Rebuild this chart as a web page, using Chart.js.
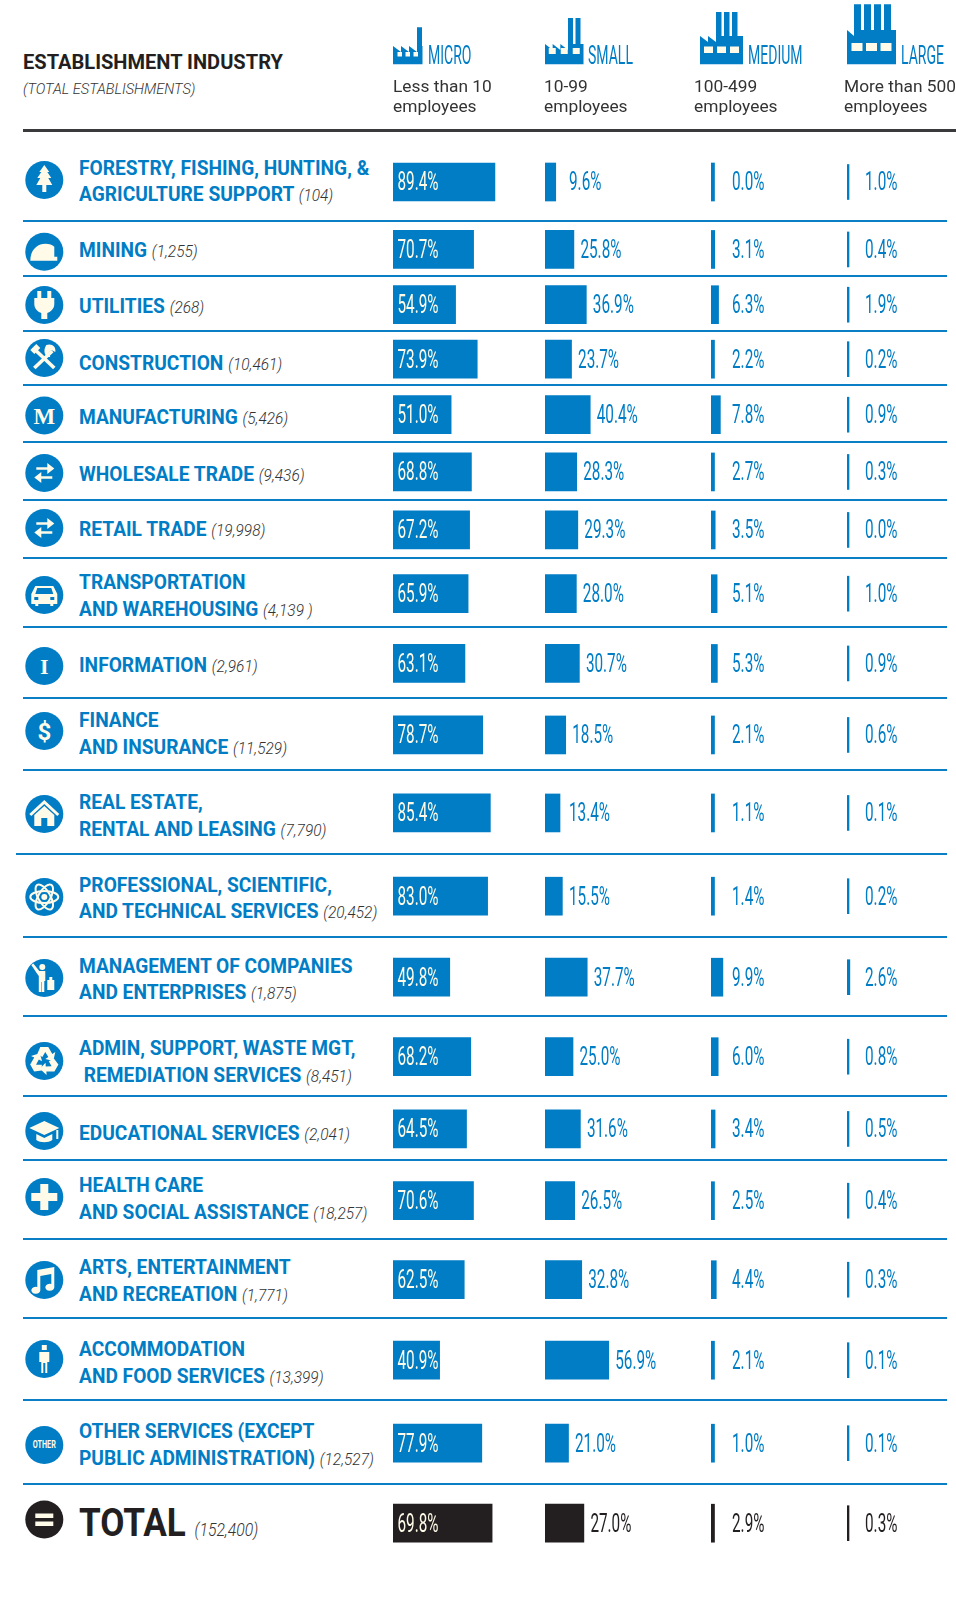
<!DOCTYPE html>
<html>
<head>
<meta charset="utf-8">
<title>Establishment industry by size</title>
<script src="https://cdn.jsdelivr.net/npm/chart.js@4"></script>
<style>
  html, body { margin: 0; background: #fff; }
  #page { position: relative; width: 956px; height: 1609px; overflow: hidden; font-family: Roboto, sans-serif; color: #231f20; }
  #page > * { position: absolute; }
  #art { left: 0; top: 0; }
  .squeeze { transform-origin: left center; white-space: pre; }
  .title { left: 23px; top: 48px; font-size: 21px; line-height: 28px; font-weight: 700; transform: scaleX(.955); }
  .sub { left: 23px; top: 79px; font-size: 15px; line-height: 20px; font-weight: 300; font-style: italic; transform: scaleX(.97); color: #333; }
  .size { top: 41px; font-size: 25.5px; line-height: 28px; font-weight: 400; color: #007dc5; transform: scaleX(.55); }
  .range { top: 76px; font-size: 17px; line-height: 20px; font-weight: 400; transform: scaleX(1.02); color: #333; }
  .label { left: 79px; font-size: 20.5px; line-height: 26.7px; font-weight: 700; color: #007dc5; transform: translateY(-50%) scaleX(.935); }
  .label i { font-size: 16.5px; font-weight: 300; color: #333; }
  .label.total { font-size: 39px; line-height: 40px; color: #231f20; transform: translateY(-50%) scaleX(.9); }
  .label.total i { font-size: 17.5px; }
  .rule { height: 2px; background: #0a7fc6; right: 9px; }
  .heavy { left: 23px; right: 0; top: 129px; height: 3px; background: #3a3a3c; }
  canvas { top: 0; }
</style>
</head>
<body>
<div id="page">
  <svg id="art" width="956" height="1609"></svg>
  <div class="squeeze title">ESTABLISHMENT INDUSTRY</div>
  <div class="squeeze sub">(TOTAL ESTABLISHMENTS)</div>
  <canvas id="colMicro"></canvas>
  <canvas id="colSmall"></canvas>
  <canvas id="colMedium"></canvas>
  <canvas id="colLarge"></canvas>
</div>
<script>
// chart data
const categories = [
  'FORESTRY, FISHING, HUNTING, &|AGRICULTURE SUPPORT',
  'MINING',
  'UTILITIES',
  'CONSTRUCTION',
  'MANUFACTURING',
  'WHOLESALE TRADE',
  'RETAIL TRADE',
  'TRANSPORTATION|AND WAREHOUSING',
  'INFORMATION',
  'FINANCE|AND INSURANCE',
  'REAL ESTATE,|RENTAL AND LEASING',
  'PROFESSIONAL, SCIENTIFIC,|AND TECHNICAL SERVICES',
  'MANAGEMENT OF COMPANIES|AND ENTERPRISES',
  'ADMIN, SUPPORT, WASTE MGT,| REMEDIATION SERVICES',
  'EDUCATIONAL SERVICES',
  'HEALTH CARE|AND SOCIAL ASSISTANCE',
  'ARTS, ENTERTAINMENT|AND RECREATION',
  'ACCOMMODATION|AND FOOD SERVICES',
  'OTHER SERVICES (EXCEPT|PUBLIC ADMINISTRATION)',
  'TOTAL'
];
const counts = ['(104)', '(1,255)', '(268)', '(10,461)', '(5,426)', '(9,436)', '(19,998)', '(4,139 )', '(2,961)', '(11,529)',
  '(7,790)', '(20,452)', '(1,875)', '(8,451)', '(2,041)', '(18,257)', '(1,771)', '(13,399)', '(12,527)', '(152,400)'];
const micro = [89.4, 70.7, 54.9, 73.9, 51.0, 68.8, 67.2, 65.9, 63.1, 78.7, 85.4, 83.0, 49.8, 68.2, 64.5, 70.6, 62.5, 40.9, 77.9, 69.8];
const small = [9.6, 25.8, 36.9, 23.7, 40.4, 28.3, 29.3, 28.0, 30.7, 18.5, 13.4, 15.5, 37.7, 25.0, 31.6, 26.5, 32.8, 56.9, 21.0, 27.0];
const medium = [0.0, 3.1, 6.3, 2.2, 7.8, 2.7, 3.5, 5.1, 5.3, 2.1, 1.1, 1.4, 9.9, 6.0, 3.4, 2.5, 4.4, 2.1, 1.0, 2.9];
const large = [1.0, 0.4, 1.9, 0.2, 0.9, 0.3, 0.0, 1.0, 0.9, 0.6, 0.1, 0.2, 2.6, 0.8, 0.5, 0.4, 0.3, 0.1, 0.1, 0.3];
const sizeNames = ['MICRO', 'SMALL', 'MEDIUM', 'LARGE'];
const sizeRanges = ['Less than 10|employees', '10-99|employees', '100-499|employees', 'More than 500|employees'];

// layout
const BLUE = '#007dc5';
const BLACK = '#231f20';
const CREAM = '#fffbe8';
const tableTop = 143.5;
const rowHeights = [77, 55.5, 55, 54, 57, 57.5, 58.5, 69, 70.5, 72.5, 83.5, 83, 79, 80, 64.5, 79, 79, 82, 84, 76];
const labelMiddles = [182.5, 251, 306.7, 364, 417.5, 475, 530, 597, 666, 735, 817, 899.5, 980.6, 1063, 1133.5, 1200, 1282, 1364, 1446, 1526];
const iconMiddles = [180, 251.7, 305, 358, 415.5, 473, 528, 595, 666, 731, 814, 897, 978, 1061, 1131, 1197, 1280, 1359, 1445, 1519.5];
const totalRow = categories.length - 1;

// category axis whose bands follow the uneven row heights of the table
class RowScale extends Chart.CategoryScale {
  static id = 'rows';
  static defaults = Chart.CategoryScale.defaults;
  getPixelForValue(value) {
    const i = typeof value === 'number' ? value : this.parse(value);
    let top = tableTop;
    for (let r = 0; r < i; r++) top += rowHeights[r];
    return top + rowHeights[i] / 2 + (i > 0 ? 1.2 : 0);
  }
}
Chart.register(RowScale);

// value labels drawn next to the bars, squeezed like the condensed type of the original
const valueLabels = {
  id: 'valueLabels',
  afterDatasetsDraw(chart, args, opts) {
    const ctx = chart.ctx;
    chart.data.datasets.forEach((ds, d) => {
      chart.getDatasetMeta(d).data.forEach((bar, i) => {
        if (ds.data[i] === null) return;
        let x = opts.fixedX;
        if (opts.mode === 'inside') x = 4.5;
        if (opts.mode === 'after') x = Math.max(bar.x + 6.5, 24);
        ctx.save();
        ctx.font = '400 25.5px Roboto, sans-serif';
        ctx.fillStyle = opts.mode === 'inside' ? CREAM : (i === totalRow ? BLACK : BLUE);
        ctx.textBaseline = 'middle';
        ctx.translate(x, bar.y + 2);
        ctx.scale(.6, 1);
        ctx.fillText(ds.data[i].toFixed(1) + '%', 0, 0);
        ctx.restore();
      });
    });
  }
};

function columnChart(id, values, o) {
  const canvas = document.getElementById(id);
  canvas.style.left = o.left + 'px';
  canvas.width = o.width;
  canvas.height = 1609;
  const rowValues = values.map((v, i) => i === totalRow ? null : v);
  const totalValues = values.map((v, i) => i === totalRow ? v : null);
  return new Chart(canvas, {
    type: 'bar',
    data: {
      labels: categories,
      datasets: [
        { data: rowValues, backgroundColor: BLUE, xAxisID: 'x', yAxisID: 'y' },
        { data: totalValues, backgroundColor: BLACK, xAxisID: 'xTotal', yAxisID: 'y' }
      ]
    },
    options: {
      indexAxis: 'y',
      responsive: false,
      animation: false,
      grouped: false,
      barThickness: o.thickness,
      minBarLength: o.minBar,
      layout: { padding: 0 },
      scales: {
        x: { type: 'linear', display: false, min: 0, max: o.width / o.pxPerPct },
        xTotal: { type: 'linear', display: false, min: 0, max: o.width / o.totalPxPerPct },
        y: { type: 'rows', display: false }
      },
      plugins: {
        legend: { display: false },
        tooltip: { enabled: false },
        valueLabels: { mode: o.mode, fixedX: o.fixedX }
      }
    },
    plugins: [valueLabels]
  });
}

columnChart('colMicro', micro, { left: 393, width: 152, pxPerPct: 1.14, totalPxPerPct: 1.42, thickness: 38, minBar: 0, mode: 'inside' });
columnChart('colSmall', small, { left: 545, width: 155, pxPerPct: 1.12, totalPxPerPct: 1.44, thickness: 38, minBar: 0, mode: 'after' });
columnChart('colMedium', medium, { left: 710.5, width: 136, pxPerPct: 1.2, totalPxPerPct: 1.2, thickness: 38, minBar: 3.5, mode: 'fixed', fixedX: 21 });
columnChart('colLarge', large, { left: 847, width: 109, pxPerPct: 1.1, totalPxPerPct: 1.1, thickness: 35, minBar: 2, mode: 'fixed', fixedX: 18 });

// table text and rules
const page = document.getElementById('page');
function addDiv(cls, html, style) {
  const el = document.createElement('div');
  el.className = cls;
  el.innerHTML = html;
  Object.assign(el.style, style);
  page.appendChild(el);
  return el;
}

let ruleY = tableTop;
categories.forEach((name, i) => {
  const lines = name.replace('&', '&amp;').split('|');
  lines[lines.length - 1] += ' <i>' + counts[i] + '</i>';
  addDiv('squeeze label' + (i === totalRow ? ' total' : ''), lines.join('<br>'), { top: labelMiddles[i] + 'px' });
  ruleY += rowHeights[i];
  if (i < totalRow) {
    addDiv('rule', '', { top: (ruleY - 1) + 'px', left: i === 10 ? '16px' : '23px' });
  }
});
addDiv('heavy', '', {});

const nameLeft = [428, 588, 747.5, 900.5];
const rangeLeft = [392.5, 544, 694, 844];
sizeNames.forEach((n, i) => {
  addDiv('squeeze size', n, { left: nameLeft[i] + 'px' });
  addDiv('squeeze range', sizeRanges[i].replace('|', '<br>'), { left: rangeLeft[i] + 'px' });
});

// factory pictograms and row icons
function factory(x, right, chimneyTop, bodyTop, chimneyLeft, chimneyW, gap, n, teeth, winTop, winH, winW, winGap) {
  let d = 'M' + x + ' 64.3V' + bodyTop;
  const toothW = (chimneyLeft - x) / teeth;
  for (let t = 1; t <= teeth; t++) d += 'L' + (x + toothW * t) + ' ' + (bodyTop + 6) + 'V' + bodyTop;
  for (let c = 0; c < n; c++) {
    const cx = chimneyLeft + c * (chimneyW + gap);
    d += 'H' + cx + 'V' + chimneyTop + 'H' + (cx + chimneyW) + 'V' + bodyTop;
  }
  d += 'H' + right + 'V64.3Z';
  let s = '<path fill="' + BLUE + '" d="' + d + '"/>';
  const winLeft = x + (right - x - (3 * winW + 2 * winGap)) / 2;
  for (let w = 0; w < 3; w++) {
    s += '<rect fill="' + CREAM + '" x="' + (winLeft + w * (winW + winGap)) + '" y="' + winTop + '" width="' + winW + '" height="' + winH + '"/>';
  }
  return s;
}

const glyph = (d) => '<path fill="' + CREAM + '" d="' + d + '"/>';
const line = (d, w) => '<path fill="none" stroke="' + CREAM + '" stroke-width="' + w + '" d="' + d + '"/>';
const word = (t, size, family, y) => '<text x="0" y="' + y + '" text-anchor="middle" fill="' + CREAM + '" font-weight="700" font-size="' + size + '" font-family="' + family + '">' + t + '</text>';
const arrows = line('M-8 -4.5H8M-8 4.5H8', 2.6) + glyph('M3 -10L10 -4.5L3 1ZM-3 -1L-10 4.5L-3 10Z');
const recycleArm = glyph('M-4 -14H4L8 -7L11 -9L9 0L1 -2L4 -4L1 -9L-2 -4L-7 -7Z');
const icons = [
  glyph('M0 -15L5 -8H3L7 -2H4L8 5H2V12H-2V5H-8L-4 -2H-7L-3 -8H-5Z'),
  glyph('M-14 9C-14 -2 -7 -8 1 -8C5 -8 8 -7 10 -5V5H13V9Z'),
  glyph('M-7 -14H-3V-7H3V-14H7V-7H10V-1C10 4 6 7 3 8V14H-3V8C-6 7 -10 4 -10 -1V-7H-7Z'),
  line('M-10 10L8 -7M-9 -8L10 10', 3.6) + glyph('M2 -13C7 -15 12 -12 11 -6L7 -8L4 -5L6 -1C1 0 -2 -7 2 -13ZM-14 -8L-8 -14L-4 -10L-10 -4Z'),
  word('M', 23, 'Liberation Serif', 8),
  arrows,
  arrows,
  glyph('M-9 -9H9L13 -1V9H9V11H6V9H-6V11H-9V9H-13V-1Z') + '<path fill="' + BLUE + '" d="M-7 -7H7L9 -1H-9ZM-10 2H-6V5H-10ZM6 2H10V5H6Z"/>',
  word('I', 22, 'Liberation Serif', 8),
  word('$', 24, 'Roboto', 8.5),
  glyph('M0 -14L15 0L13 2L0 -10L-13 2L-15 0ZM-10 1L0 -8L10 1V12H3V4H-3V12H-10Z'),
  '<g fill="none" stroke="' + CREAM + '" stroke-width="2"><ellipse rx="14" ry="6"/><ellipse rx="14" ry="6" transform="rotate(60)"/><ellipse rx="14" ry="6" transform="rotate(-60)"/></g><circle r="3" fill="' + CREAM + '"/>',
  '<circle cx="-2" cy="-11" r="3" fill="' + CREAM + '"/>' + glyph('M-13 -13L-11 -14.5L-5 -7H1V3H0V14H-2.5V4H-3V14H-5.5V-2L-7 -4ZM3 2H10V12H3ZM5 -1H8V2H5Z'),
  recycleArm + '<g transform="rotate(120)">' + recycleArm + '</g><g transform="rotate(240)">' + recycleArm + '</g>',
  glyph('M-15 -3L0 -10L15 -3L0 4ZM-8 3L0 7L8 3V9C4 12 -4 12 -8 9ZM12 -1H14V8H12Z'),
  glyph('M-4 -13H4V-4H13V4H4V13H-4V4H-13V-4H-4Z'),
  glyph('M-7 -10L10 -13V7A4.5 3.5 0 1 1 7 4V-6L-4 -4V10A4.5 3.5 0 1 1 -7 7Z'),
  glyph('M-2.5 -14h5v5h-5ZM-5 -7H5V3H3V14H1V4H-1V14H-3V3H-5Z'),
  '<text x="0" y="3" transform="scale(.72 1)" text-anchor="middle" fill="' + CREAM + '" font-weight="700" font-size="10" font-family="Roboto">OTHER</text>',
  glyph('M-9 -6H9V-1.5H-9ZM-9 2H9V6.5H-9Z')
];

let art = factory(393, 422.5, 27.3, 46, 417, 5, 0, 1, 3, 52, 4.5, 4.5, 3.5);
art += factory(545, 583.5, 18, 44, 568, 5, 2.5, 2, 3, 48, 6, 7, 5);
art += factory(700, 743, 12, 36, 716, 5.5, 2.5, 3, 2, 46.5, 6.5, 9, 4);
art += factory(847, 896, 4.3, 30, 854, 7, 3, 4, 1, 43, 8, 11, 3.5);
icons.forEach((g, i) => {
  const fill = i === totalRow ? BLACK : BLUE;
  art += '<g transform="translate(44.3 ' + iconMiddles[i] + ')"><circle r="19" fill="' + fill + '"/>' + g + '</g>';
});
document.getElementById('art').innerHTML = art;
</script>
</body>
</html>
